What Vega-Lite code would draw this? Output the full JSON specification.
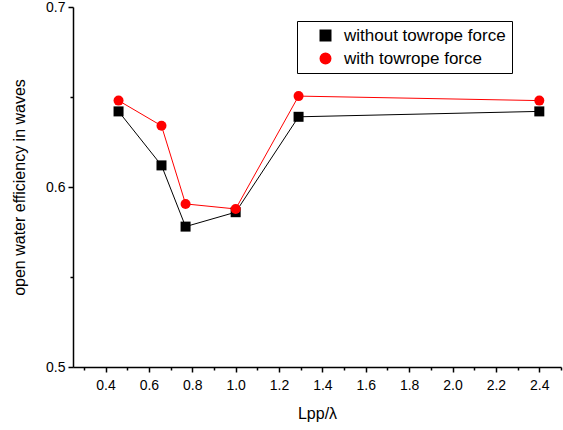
{
  "$schema": "https://vega.github.io/schema/vega-lite/v6.json",
  "width": 488,
  "height": 360,
  "autosize": {"type": "none"},
  "padding": {"left": 73, "top": 7, "right": 2, "bottom": 63},
  "background": "white",
  "config": {
    "view": {"stroke": null},
    "font": "Liberation Sans",
    "axis": {
      "domainColor": "black",
      "domainWidth": 1.5,
      "tickColor": "black",
      "tickWidth": 1.5,
      "labelColor": "black",
      "labelFont": "Liberation Sans",
      "labelFontSize": 14,
      "titleFont": "Liberation Sans",
      "titleFontSize": 16,
      "titleFontWeight": "normal",
      "titleColor": "black",
      "grid": false
    },
    "legend": {
      "orient": "none",
      "legendX": 224,
      "legendY": 14,
      "strokeColor": "black",
      "fillColor": "white",
      "padding": 6,
      "labelFont": "Liberation Sans",
      "labelFontSize": 17,
      "labelColor": "black",
      "labelOffset": 10,
      "labelLimit": 400,
      "rowPadding": 5,
      "symbolSize": 110,
      "symbolOffset": 14
    }
  },
  "data": {
    "values": [
      {"x": 0.46, "y": 0.642, "series": "without towrope force"},
      {"x": 0.658, "y": 0.612, "series": "without towrope force"},
      {"x": 0.769, "y": 0.578, "series": "without towrope force"},
      {"x": 1.0, "y": 0.586, "series": "without towrope force"},
      {"x": 1.29, "y": 0.639, "series": "without towrope force"},
      {"x": 2.4, "y": 0.642, "series": "without towrope force"},
      {"x": 0.46, "y": 0.648, "series": "with towrope force"},
      {"x": 0.658, "y": 0.634, "series": "with towrope force"},
      {"x": 0.769, "y": 0.5906, "series": "with towrope force"},
      {"x": 1.0, "y": 0.5878, "series": "with towrope force"},
      {"x": 1.29, "y": 0.6505, "series": "with towrope force"},
      {"x": 2.4, "y": 0.648, "series": "with towrope force"}
    ]
  },
  "encoding": {
    "x": {
      "field": "x",
      "type": "quantitative",
      "scale": {"domain": [0.25, 2.5], "nice": false, "zero": false},
      "axis": {
        "title": "Lpp/λ",
        "values": [0.3,0.4,0.5,0.6,0.7,0.8,0.9,1.0,1.1,1.2,1.3,1.4,1.5,1.6,1.7,1.8,1.9,2.0,2.1,2.2,2.3,2.4,2.5],
        "labelExpr": "round(datum.value*10) % 2 == 0 ? format(datum.value, '.1f') : ''",
        "tickSize": {"condition": {"test": "round(datum.value*10) % 2 == 0", "value": 5}, "value": 3},
        "labelPadding": 6,
        "titlePadding": 13
      }
    },
    "y": {
      "field": "y",
      "type": "quantitative",
      "scale": {"domain": [0.5, 0.7], "nice": false, "zero": false},
      "axis": {
        "title": "open water efficiency in waves",
        "values": [0.5, 0.55, 0.6, 0.65, 0.7],
        "labelExpr": "round(datum.value*100) % 10 == 0 ? format(datum.value, '.1f') : ''",
        "tickSize": {"condition": {"test": "round(datum.value*100) % 10 == 0", "value": 5}, "value": 3},
        "labelPadding": 3,
        "titlePadding": 18
      }
    },
    "color": {
      "field": "series",
      "type": "nominal",
      "title": null,
      "scale": {"domain": ["without towrope force", "with towrope force"], "range": ["#000000", "#ff0000"]}
    }
  },
  "layer": [
    {
      "mark": {"type": "line", "strokeWidth": 1}
    },
    {
      "mark": {"type": "point", "filled": true, "opacity": 1, "size": 100},
      "encoding": {
        "shape": {
          "field": "series",
          "type": "nominal",
          "title": null,
          "scale": {"domain": ["without towrope force", "with towrope force"], "range": ["square", "circle"]}
        }
      }
    }
  ]
}
